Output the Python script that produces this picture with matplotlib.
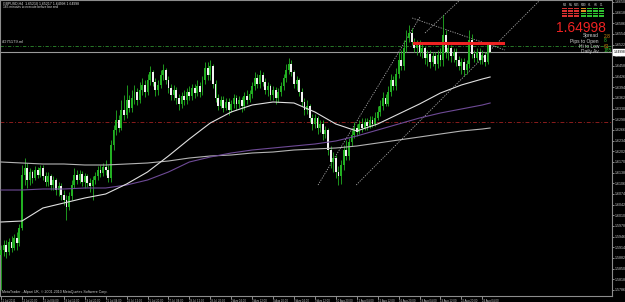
import matplotlib
matplotlib.use("Agg")
import matplotlib.pyplot as plt
import matplotlib.transforms as mtransforms
from matplotlib.patches import Rectangle
import numpy as np

plt.rcParams['font.family'] = ['Liberation Sans', 'DejaVu Sans']

# GBPUSD H4, 12 Jul 2011 12:00 .. 24 Aug 2011 16:00 (188 bars)
first_open = 1.5891
closes = [
    1.5906, 1.5921, 1.5900, 1.5930, 1.5912, 1.5942, 1.5927, 1.5972, 1.6131, 1.6152,
    1.6116, 1.6140, 1.6122, 1.6146, 1.6131, 1.6152, 1.6128, 1.6110, 1.6128, 1.6101,
    1.6116, 1.6086, 1.6098, 1.6071, 1.6056, 1.6035, 1.6068, 1.6101, 1.6131, 1.6116,
    1.6134, 1.6110, 1.6128, 1.6107, 1.6098, 1.6116, 1.6128, 1.6146, 1.6137, 1.6155,
    1.6146, 1.6122, 1.6221, 1.6266, 1.6296, 1.6272, 1.6326, 1.6311, 1.6356, 1.6332,
    1.6362, 1.6380, 1.6356, 1.6386, 1.6401, 1.6380, 1.6416, 1.6440, 1.6410, 1.6386,
    1.6401, 1.6431, 1.6446, 1.6416, 1.6392, 1.6371, 1.6386, 1.6362, 1.6344, 1.6368,
    1.6356, 1.6380, 1.6368, 1.6392, 1.6377, 1.6398, 1.6380, 1.6416, 1.6452, 1.6431,
    1.6458, 1.6404, 1.6362, 1.6338, 1.6356, 1.6332, 1.6350, 1.6326, 1.6344, 1.6362,
    1.6344, 1.6356, 1.6338, 1.6368, 1.6356, 1.6374, 1.6398, 1.6422, 1.6404, 1.6431,
    1.6410, 1.6386, 1.6398, 1.6371, 1.6386, 1.6362, 1.6380, 1.6398, 1.6422, 1.6446,
    1.6464, 1.6440, 1.6404, 1.6416, 1.6380, 1.6350, 1.6326, 1.6338, 1.6302, 1.6284,
    1.6302, 1.6272, 1.6284, 1.6254, 1.6266, 1.6206, 1.6170, 1.6182, 1.6140, 1.6128,
    1.6161, 1.6206, 1.6188, 1.6230, 1.6251, 1.6272, 1.6260, 1.6284, 1.6272, 1.6290,
    1.6278, 1.6296, 1.6284, 1.6302, 1.6320, 1.6338, 1.6362, 1.6344, 1.6380, 1.6416,
    1.6398, 1.6434, 1.6476, 1.6458, 1.6512, 1.6542, 1.6557, 1.6530, 1.6512, 1.6524,
    1.6500, 1.6512, 1.6482, 1.6494, 1.6470, 1.6488, 1.6464, 1.6491, 1.6476, 1.6551,
    1.6500, 1.6512, 1.6488, 1.6500, 1.6476, 1.6458, 1.6470, 1.6446, 1.6464, 1.6536,
    1.6494, 1.6482, 1.6500, 1.6476, 1.6491, 1.6470, 1.6521, 1.64998,
]
highs = [
    1.5921, 1.5936, 1.5936, 1.5942, 1.5948, 1.5954, 1.5960, 1.5984, 1.6161, 1.6182,
    1.6167, 1.6152, 1.6146, 1.6158, 1.6155, 1.6161, 1.6161, 1.6140, 1.6140, 1.6134,
    1.6128, 1.6122, 1.6110, 1.6107, 1.6086, 1.6071, 1.6080, 1.6116, 1.6152, 1.6146,
    1.6146, 1.6143, 1.6137, 1.6134, 1.6122, 1.6128, 1.6140, 1.6158, 1.6161, 1.6167,
    1.6176, 1.6161, 1.6236, 1.6281, 1.6326, 1.6311, 1.6356, 1.6371, 1.6401, 1.6371,
    1.6386, 1.6401, 1.6392, 1.6410, 1.6422, 1.6416, 1.6434, 1.6458, 1.6446, 1.6422,
    1.6416, 1.6446, 1.6464, 1.6452, 1.6428, 1.6404, 1.6401, 1.6395, 1.6374, 1.6380,
    1.6386, 1.6392, 1.6398, 1.6404, 1.6404, 1.6416, 1.6410, 1.6428, 1.6470, 1.6470,
    1.6476, 1.6464, 1.6416, 1.6374, 1.6368, 1.6368, 1.6362, 1.6362, 1.6356, 1.6374,
    1.6371, 1.6368, 1.6365, 1.6380, 1.6386, 1.6386, 1.6410, 1.6440, 1.6434, 1.6446,
    1.6440, 1.6422, 1.6410, 1.6404, 1.6398, 1.6395, 1.6392, 1.6410, 1.6434, 1.6464,
    1.6482, 1.6476, 1.6446, 1.6428, 1.6422, 1.6392, 1.6362, 1.6356, 1.6344, 1.6314,
    1.6314, 1.6308, 1.6296, 1.6296, 1.6278, 1.6272, 1.6218, 1.6200, 1.6191, 1.6158,
    1.6176, 1.6221, 1.6236, 1.6242, 1.6266, 1.6290, 1.6284, 1.6296, 1.6302, 1.6302,
    1.6302, 1.6308, 1.6308, 1.6320, 1.6338, 1.6356, 1.6380, 1.6374, 1.6398, 1.6434,
    1.6428, 1.6452, 1.6500, 1.6506, 1.6536, 1.6566, 1.6581, 1.6572, 1.6542, 1.6536,
    1.6536, 1.6524, 1.6518, 1.6506, 1.6506, 1.6500, 1.6500, 1.6506, 1.6512, 1.6611,
    1.6566, 1.6524, 1.6521, 1.6512, 1.6512, 1.6488, 1.6482, 1.6482, 1.6476, 1.6566,
    1.6554, 1.6506, 1.6512, 1.6512, 1.6506, 1.6500, 1.6524, 1.65217,
]
lows = [
    1.5786, 1.5888, 1.5882, 1.5891, 1.5900, 1.5906, 1.5906, 1.5918, 1.5966, 1.6101,
    1.6092, 1.6101, 1.6107, 1.6116, 1.6122, 1.6125, 1.6116, 1.6098, 1.6098, 1.6086,
    1.6086, 1.6071, 1.6068, 1.6056, 1.6041, 1.5996, 1.6026, 1.6056, 1.6092, 1.6104,
    1.6107, 1.6098, 1.6092, 1.6095, 1.6080, 1.6056, 1.6104, 1.6116, 1.6125, 1.6128,
    1.6131, 1.6110, 1.6110, 1.6206, 1.6251, 1.6260, 1.6266, 1.6296, 1.6302, 1.6320,
    1.6320, 1.6344, 1.6341, 1.6347, 1.6371, 1.6365, 1.6371, 1.6401, 1.6398, 1.6368,
    1.6371, 1.6392, 1.6416, 1.6404, 1.6377, 1.6356, 1.6356, 1.6344, 1.6326, 1.6332,
    1.6341, 1.6344, 1.6356, 1.6356, 1.6362, 1.6368, 1.6365, 1.6371, 1.6404, 1.6416,
    1.6416, 1.6392, 1.6350, 1.6326, 1.6332, 1.6320, 1.6326, 1.6311, 1.6320, 1.6332,
    1.6326, 1.6332, 1.6320, 1.6326, 1.6344, 1.6350, 1.6362, 1.6386, 1.6392, 1.6392,
    1.6398, 1.6374, 1.6368, 1.6356, 1.6356, 1.6344, 1.6350, 1.6368, 1.6386, 1.6410,
    1.6434, 1.6428, 1.6392, 1.6386, 1.6368, 1.6338, 1.6311, 1.6314, 1.6290, 1.6266,
    1.6272, 1.6254, 1.6260, 1.6236, 1.6242, 1.6191, 1.6152, 1.6140, 1.6122, 1.6101,
    1.6104, 1.6146, 1.6176, 1.6176, 1.6218, 1.6242, 1.6248, 1.6254, 1.6260, 1.6266,
    1.6266, 1.6272, 1.6275, 1.6278, 1.6296, 1.6308, 1.6326, 1.6338, 1.6338, 1.6368,
    1.6386, 1.6386, 1.6422, 1.6446, 1.6446, 1.6500, 1.6530, 1.6521, 1.6500, 1.6491,
    1.6488, 1.6482, 1.6464, 1.6458, 1.6452, 1.6458, 1.6446, 1.6452, 1.6458, 1.6458,
    1.6482, 1.6476, 1.6470, 1.6470, 1.6458, 1.6446, 1.6434, 1.6428, 1.6434, 1.6452,
    1.6482, 1.6470, 1.6470, 1.6464, 1.6464, 1.6458, 1.6464, 1.64998,
]

date_labels = ["12 Jul 2011", "13 Jul 20:00", "15 Jul 04:00", "18 Jul 12:00",
               "19 Jul 20:00", "21 Jul 04:00", "22 Jul 12:00", "25 Jul 20:00",
               "27 Jul 04:00", "28 Jul 12:00", "29 Jul 20:00", "2 Aug 04:00",
               "3 Aug 12:00", "4 Aug 20:00", "8 Aug 04:00", "9 Aug 12:00",
               "10 Aug 20:00", "12 Aug 04:00", "15 Aug 12:00", "16 Aug 20:00",
               "18 Aug 04:00", "19 Aug 12:00", "22 Aug 20:00", "24 Aug 04:00"]

# moving averages read at every 8th bar
ma_bars = [0, 8, 16, 24, 32, 40, 48, 56, 64, 72, 80, 88, 96, 104, 112, 120,
           128, 136, 144, 152, 160, 168, 176, 184, 187]
ma_fast = [1.5990, 1.5993, 1.6032, 1.6047, 1.6062, 1.6074, 1.6104, 1.6140, 1.6188,
           1.6239, 1.6287, 1.6320, 1.6341, 1.6350, 1.6347, 1.6320, 1.6284, 1.6263,
           1.6284, 1.6314, 1.6344, 1.6377, 1.6401, 1.6419, 1.6425]
ma_mid = [1.6086, 1.6086, 1.6089, 1.6089, 1.6092, 1.6092, 1.6101, 1.6116, 1.6140,
          1.6170, 1.6185, 1.6197, 1.6206, 1.6212, 1.6218, 1.6224, 1.6233, 1.6248,
          1.6266, 1.6284, 1.6302, 1.6317, 1.6329, 1.6341, 1.6347]
ma_slow = [1.6170, 1.6167, 1.6164, 1.6164, 1.6161, 1.6161, 1.6164, 1.6167, 1.6173,
           1.6182, 1.6188, 1.6191, 1.6197, 1.6200, 1.6206, 1.6209, 1.6212, 1.6218,
           1.6227, 1.6236, 1.6245, 1.6254, 1.6263, 1.6269, 1.6272]

# drawn objects: (bar, price) pairs
trend_lines = [((121.2, 1.6101), (160.2, 1.6605)),
               ((157.2, 1.6602), (192.7, 1.6506)),
               ((162.1, 1.6557), (175.5, 1.6656)),
               ((135.8, 1.6101), (206.1, 1.6656))]
red_level = (158, 192, 1.6527)
green_level = 1.6518
red_dotted_level = 1.6290

bid = closes[-1]
header = "GBPUSD,H4  1.65210 1.65217 1.64998 1.64998"
subheader = "165 minutes to execute before bar end"

# ---------------------------------------------------------------
W, H = 625, 302
fig = plt.figure(figsize=(W / 100, H / 100), dpi=100, facecolor="black")
ax = fig.add_axes([0, 6 / H, 612 / W, 296 / H])
ax.set_facecolor("black")

n = len(closes)
x = np.arange(n)
c = np.array(closes)
o = np.array([first_open] + closes[:-1])
hi = np.maximum(np.array(highs), np.maximum(o, c))
lo = np.minimum(np.array(lows), np.minimum(o, c))

green = "#22b022"
ax.axhline(red_dotted_level, color="#8a1c1c", lw=0.7, ls=(0, (4, 2, 1, 2)), zorder=1)
ax.axhline(green_level, color="#2e8b2e", lw=0.6, ls=(0, (4, 2, 1, 2)), zorder=1)
ax.axhline(bid, color="#9a9a9a", lw=0.8, zorder=1)

ax.vlines(x, lo, hi, color=green, lw=0.6, zorder=3)
body_bottom = np.minimum(o, c)
body_h = np.maximum(np.abs(c - o), 0.00006)
colors = np.where(c >= o, green, "#f2f2f2")
ax.bar(x, body_h, bottom=body_bottom, width=0.7, color=colors, linewidth=0, zorder=4)

ax.plot(ma_bars, ma_slow, color="#b4b4b4", lw=0.8, zorder=5)
ax.plot(ma_bars, ma_mid, color="#6e4a96", lw=0.8, zorder=5)
ax.plot(ma_bars, ma_fast, color="#e0e0e0", lw=0.8, zorder=5)

for (x0, y0), (x1, y1) in trend_lines:
    ax.plot([x0, x1], [y0, y1], color="#a8a8a8", lw=0.6, ls=(0, (1.5, 1.5)), zorder=2)
ax.plot(red_level[:2], [red_level[2]] * 2, color="#ee2222", lw=2.2, zorder=6)

ax.set_xlim(-0.4, 233.6)
ax.set_ylim(1.5768, 1.6656)

# axes, ticks
for side, sp in ax.spines.items():
    sp.set_color("#8c8c8c")
    sp.set_linewidth(0.8)
ax.yaxis.tick_right()
yt = np.arange(1.5786, 1.6656, 0.0032)
ax.set_yticks(yt)
ax.set_yticklabels(["%.4f" % v for v in yt])
ax.tick_params(axis="y", colors="#c8c8c8", labelsize=2.6, length=1.5, width=0.5, pad=0.6)
ax.set_xticks(np.arange(0, 8 * len(date_labels), 8))
ax.set_xticklabels(date_labels, ha="left")
ax.tick_params(axis="x", colors="#c8c8c8", labelsize=2.0, length=2, width=0.5, pad=0.5)

trans = mtransforms.blended_transform_factory(ax.transAxes, ax.transData)
ax.text(1.0025, bid, "1.64998", transform=trans, fontsize=2.3, color="black",
        va="center", ha="left", clip_on=False, zorder=10,
        bbox=dict(facecolor="white", edgecolor="white", pad=0.7))

ax.text(0.004, 0.008, "MetaTrader - Alpari UK, \u00a9 2001-2010 MetaQuotes Software Corp.",
        transform=ax.transAxes, fontsize=2.6, color="#d0d0d0", va="bottom")
ax.text(0.004, green_level + 0.0006, "#D75179.ml", fontsize=3.0, color="#d0d0d0",
        va="bottom", transform=trans)

# overlay in pixel coordinates for the corner texts and the info panel
ov = fig.add_axes([0, 0, 1, 1], facecolor="none")
ov.set_xlim(0, W)
ov.set_ylim(H, 0)
ov.axis("off")
ov.text(3, 3.5, header, fontsize=2.5, color="#e0e0e0", va="center")
ov.text(3, 7.5, subheader, fontsize=2.3, color="#e0e0e0", va="center")

tfs = ["M1", "M5", "M15", "M30", "H1", "H4", "D1"]
red, orange, lgreen = "#d83030", "#e09020", "#30c030"
col_colors = [[red] * 4, [red] * 4, [red] * 4, [orange, orange, lgreen, lgreen],
              [lgreen] * 4, [lgreen] * 4, [lgreen] * 4]
for k, tf in enumerate(tfs):
    x0 = 562 + k * 6.2
    ov.text(x0 + 2.5, 4.5, tf, fontsize=2.0, color="#d0d0d0", ha="center", va="center")
    for r in range(4):
        ov.add_patch(Rectangle((x0, 7.5 + r * 2.5), 5, 1.8, color=col_colors[k][r], lw=0))

ov.text(606, 32, "1.64998", fontsize=10, color="#ee2222", ha="right", va="baseline")
panel = [("Spread", "2.8", "#d08a10"), ("Pips to Open", "8", "#30c030"),
         ("Hi to Low", "61", "#d08a10"), ("Daily Av", "185", "#30c030")]
for r, (lab, val, vc) in enumerate(panel):
    yy = 36 + r * 5
    ov.text(599, yy, lab, fontsize=3.5, color="#d0d0d0", ha="right", va="center")
    ov.text(604, yy, val, fontsize=3.5, color=vc, ha="left", va="center")

fig.savefig("out.png", dpi=100, facecolor="black")
